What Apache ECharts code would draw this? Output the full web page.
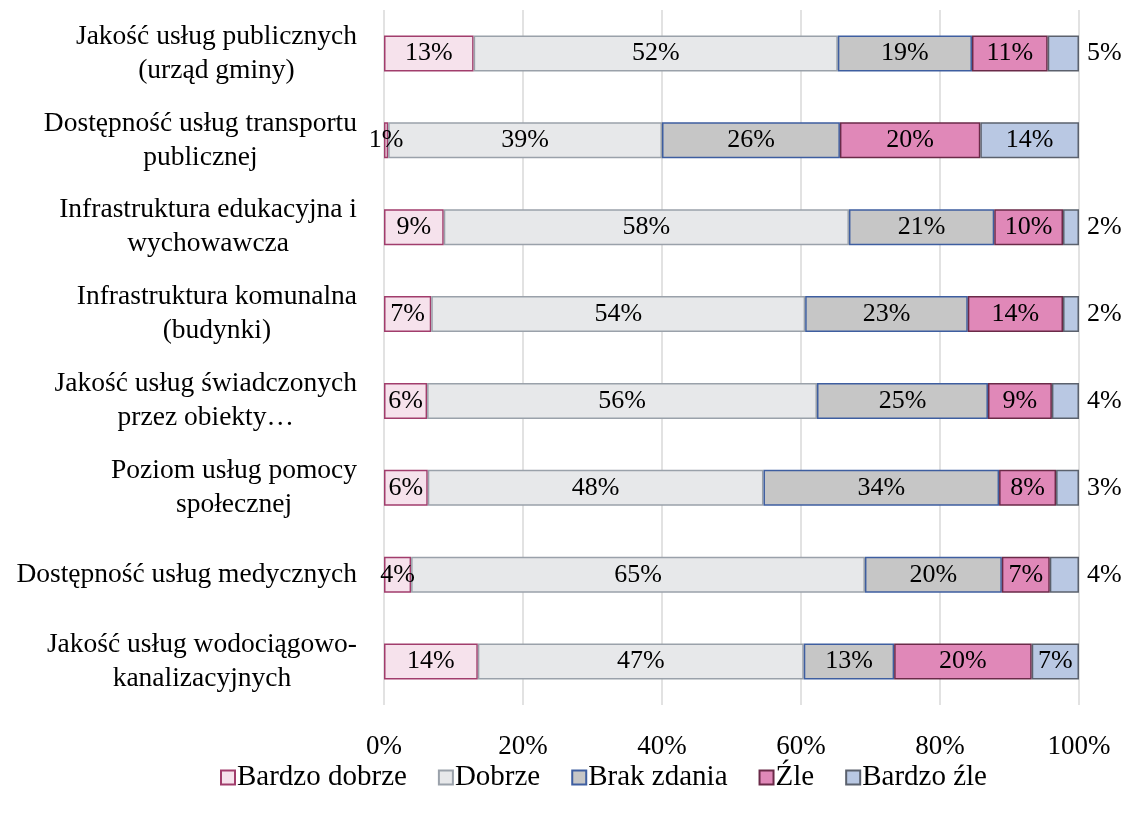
<!DOCTYPE html>
<html><head><meta charset="utf-8">
<script src="https://cdn.jsdelivr.net/npm/echarts@6/dist/echarts.min.js"></script>
<style>html,body{margin:0;padding:0;background:#fff}#c{width:1132px;height:815px}</style>
</head><body><div id="c"></div>
<script>
const categories = [
  'Jakość usług publicznych\n(urząd gminy)',
  'Dostępność usług transportu\npublicznej',
  'Infrastruktura edukacyjna i\nwychowawcza',
  'Infrastruktura komunalna\n(budynki)',
  'Jakość usług świadczonych\nprzez obiekty…',
  'Poziom usług pomocy\nspołecznej',
  'Dostępność usług medycznych',
  'Jakość usług wodociągowo-\nkanalizacyjnych'
];
const seriesNames = ['Bardzo dobrze', 'Dobrze', 'Brak zdania', 'Źle', 'Bardzo źle'];
const bardzoDobrze = [12.9, 0.6, 8.6, 6.8, 6.2, 6.3, 3.9, 13.5];
const dobrze       = [52.4, 39.4, 58.3, 53.8, 56.1, 48.3, 65.3, 46.9];
const brakZdania   = [19.3, 25.6, 20.9, 23.4, 24.6, 33.9, 19.7, 13.0];
const zle          = [10.9, 20.2, 9.9, 13.7, 9.2, 8.2, 6.9, 19.8];
const bardzoZle    = [4.5, 14.2, 2.3, 2.3, 3.9, 3.3, 4.2, 6.8];
const xTicks = [0, 20, 40, 60, 80, 100];

const values = [bardzoDobrze, dobrze, brakZdania, zle, bardzoZle];
const fills   = ['#f6e2ec', '#e7e8ea', '#c6c6c6', '#e088b8', '#b9c8e3'];
const borders = ['#a13d6c', '#9aa1aa', '#3e5ea0', '#6a2a48', '#5b616d'];
const FONT = 'Liberation Serif';

const chart = echarts.init(document.getElementById('c'));
const series = values.map((arr, si) => ({
  name: seriesNames[si],
  type: 'bar',
  stack: 'all',
  barWidth: 36,
  itemStyle: { color: fills[si], borderColor: borders[si], borderWidth: 1.5 },
  label: {
    show: true,
    position: 'inside',
    color: '#000',
    fontFamily: FONT,
    fontSize: 26,
    formatter: p => Math.round(p.value) + '%'
  },
  data: arr.map(v => {
    if (si === 4 && v < 5.5) {
      return { value: v, label: { position: 'right', distance: 8 } };
    }
    return v;
  })
}));

chart.setOption({
  animation: false,
  textStyle: { fontFamily: FONT },
  grid: { left: 384, right: 53, top: 10, bottom: 110, containLabel: false },
  legend: {
    bottom: 18,
    left: 215,
    itemWidth: 14,
    itemHeight: 14,
    itemGap: 31,
    icon: 'rect',
    textStyle: { fontFamily: FONT, fontSize: 29, color: '#000', padding: [0, 0, 0, -3] },
    data: seriesNames
  },
  xAxis: {
    type: 'value',
    min: xTicks[0],
    max: xTicks[xTicks.length - 1],
    interval: xTicks[1] - xTicks[0],
    axisLine: { show: false },
    axisTick: { show: false },
    splitLine: { lineStyle: { color: '#d9d9d9', width: 1.5 } },
    axisLabel: { formatter: '{value}%', color: '#000', fontFamily: FONT, fontSize: 27, margin: 28 }
  },
  yAxis: {
    type: 'category',
    inverse: true,
    data: categories,
    axisLine: { show: false },
    axisTick: { show: false },
    axisLabel: {
      color: '#000',
      fontFamily: FONT,
      fontSize: 27.5,
      margin: 27,
      lineHeight: 34,
      align: 'right',
      formatter: v => v.split('\n').map(s => '{c|' + s + '}').join('\n'),
      rich: { c: { align: 'center', fontFamily: FONT, fontSize: 27.5, lineHeight: 34, color: '#000' } }
    }
  },
  series: series
});
</script></body></html>
